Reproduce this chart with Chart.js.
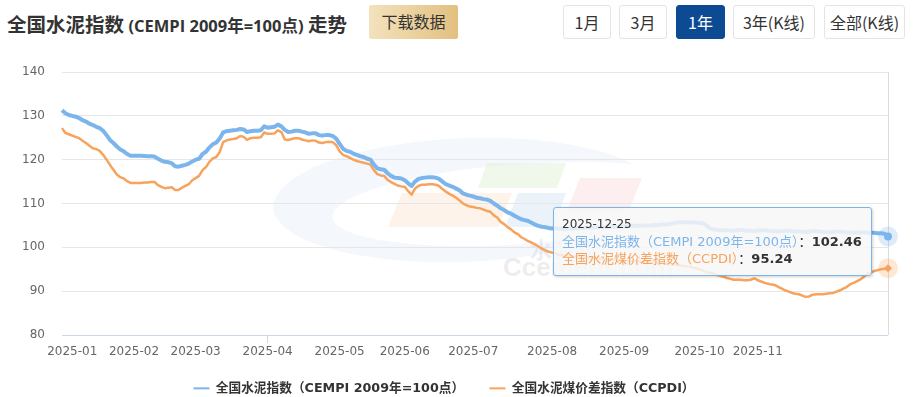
<!DOCTYPE html>
<html>
<head>
<meta charset="utf-8">
<title>全国水泥指数走势</title>
<script src="https://cdn.jsdelivr.net/npm/chart.js@4.4.1/dist/chart.umd.min.js"></script>
<style>
  html, body { margin: 0; padding: 0; background: #fff; }
  body { width: 913px; height: 397px; position: relative; overflow: hidden; font-family: "Noto Sans CJK SC", sans-serif; }
  #chart { position: absolute; left: 0; top: 0; }
  .title { position: absolute; left: 7px; top: 8px; font-size: 19.5px; font-weight: bold; color: #333; line-height: 32px; white-space: nowrap; }
  .title .sub { font: bold 16.5px "Open Sans", "Noto Sans CJK SC", sans-serif; }
  .btn { position: absolute; top: 5px; height: 34px; line-height: 33px; text-align: center; font-size: 16px; color: #333; box-sizing: border-box; border-radius: 3px; white-space: nowrap; }
  .download { left: 369px; width: 89px; background: linear-gradient(90deg, #f3e2bd, #e2c07f); border-radius: 2px; }
  .range { border: 1px solid #e4e4e4; background: #fff; }
  .range.on { background: #0d4a94; border-color: #0d4a94; color: #fff; }
  .tip { position: absolute; background: rgba(247,247,247,0.85); border: 1px solid #7cb5ec; border-radius: 3px;
         box-shadow: 1px 1px 3px rgba(0,0,0,0.18); padding: 8px 9px 8px 8px; font: 13px "DejaVu Sans", "Noto Sans CJK SC", sans-serif;
         color: #333; white-space: nowrap; line-height: 17px; }
  .tip .tt { font-size: 12px; }
</style>
</head>
<body>
<div class="title">全国水泥指数 <span class="sub">(CEMPI 2009年=100点)</span> 走势</div>
<div class="btn download">下载数据</div>
<div class="btn range" style="left:563px;width:48px">1月</div>
<div class="btn range" style="left:619px;width:48px">3月</div>
<div class="btn range on" style="left:676px;width:49px">1年</div>
<div class="btn range" style="left:733px;width:82px">3年(K线)</div>
<div class="btn range" style="left:824px;width:81px">全部(K线)</div>
<canvas id="chart" width="913" height="397"></canvas>
<div class="tip" id="tip"></div>
<script>
// 交易日（按月）
const monthKeys = ['2024-12', '2025-01', '2025-02', '2025-03', '2025-04', '2025-05', '2025-06',
                   '2025-07', '2025-08', '2025-09', '2025-10', '2025-11', '2025-12'];
const monthDays = [
  [27, 30, 31],
  [2, 3, 6, 7, 8, 9, 10, 13, 14, 15, 16, 17, 20, 21, 22, 23, 24, 27],
  [5, 6, 7, 10, 11, 12, 13, 14, 17, 18, 19, 20, 21, 24, 25, 26, 27, 28],
  [3, 4, 5, 6, 7, 10, 11, 12, 13, 14, 17, 18, 19, 20, 21, 24, 25, 26, 27, 28, 31],
  [1, 2, 3, 7, 8, 9, 10, 11, 14, 15, 16, 17, 18, 21, 22, 23, 24, 25, 28, 29, 30],
  [6, 7, 8, 9, 12, 13, 14, 15, 16, 19, 20, 21, 22, 23, 26, 27, 28, 29, 30],
  [3, 4, 5, 6, 9, 10, 11, 12, 13, 16, 17, 18, 19, 20, 23, 24, 25, 26, 27, 30],
  [1, 2, 3, 4, 7, 8, 9, 10, 11, 14, 15, 16, 17, 18, 21, 22, 23, 24, 25, 28, 29, 30, 31],
  [1, 4, 5, 6, 7, 8, 11, 12, 13, 14, 15, 18, 19, 20, 21, 22, 25, 26, 27, 28, 29],
  [1, 2, 3, 4, 5, 8, 9, 10, 11, 12, 15, 16, 17, 18, 19, 22, 23, 24, 25, 26, 29, 30],
  [9, 10, 13, 14, 15, 16, 17, 20, 21, 22, 23, 24, 27, 28, 29, 30, 31],
  [3, 4, 5, 6, 7, 10, 11, 12, 13, 14, 17, 18, 19, 20, 21, 24, 25, 26, 27, 28],
  [1, 2, 3, 4, 5, 8, 9, 10, 11, 12, 15, 16, 17, 18, 19, 22, 23, 24, 25]
];

// 全国水泥指数（CEMPI 2009年=100点）
const cempi = [
  131.3, 130.6, 130.2,
  130.0, 129.8, 129.5, 129.0, 128.7, 128.2, 127.9, 127.5, 127.2, 126.6, 125.6, 124.5, 123.8, 123.0, 122.3, 121.9, 121.3, 120.9,
  120.9, 120.9, 120.9, 120.85, 120.8, 120.8, 120.7, 120.2, 119.8, 119.5, 119.4, 119.2, 118.5, 118.4, 118.6, 118.8, 119.1, 119.6,
  120.0, 120.2, 121.3, 121.8, 122.8, 123.5, 123.9, 124.8, 126.2, 126.5, 126.6, 126.7, 126.8, 127.0, 126.9, 126.3, 126.5, 126.6, 126.6, 126.7, 127.6,
  127.3, 127.4, 127.5, 128.0, 127.6, 126.8, 126.3, 126.4, 126.6, 126.6, 126.4, 126.2, 125.9, 126.0, 126.0, 125.6, 125.5, 125.6, 125.6, 125.4, 124.8,
  123.6, 122.5, 122.0, 121.8, 121.4, 121.1, 120.8, 120.6, 120.2, 120.0, 118.9, 118.0, 117.8, 117.7, 116.9, 116.3, 115.9, 115.8, 115.7,
  115.3, 114.6, 114.0, 115.0, 115.6, 115.8, 115.9, 116.0, 116.0, 115.9, 115.6, 115.0, 114.4, 114.1, 113.8, 113.4, 113.0, 112.3, 112.0, 111.8,
  111.6, 111.3, 111.2, 111.0, 110.9, 110.6, 110.0, 109.5, 108.9, 108.5, 108.0, 107.7, 107.2, 106.8, 106.4, 106.2, 106.0, 105.6, 105.2, 104.9, 104.7, 104.6, 104.4,
  104.3, 104.3, 104.3, 104.2, 104.2, 104.3, 104.3, 104.4, 104.4, 104.4, 104.5, 104.5, 104.5, 104.5, 104.6, 104.6, 104.6, 104.7, 104.7, 104.7, 104.7,
  104.8, 104.8, 104.8, 104.9, 104.9, 104.9, 105.0, 105.0, 105.0, 105.1, 105.1, 105.2, 105.2, 105.3, 105.4, 105.6, 105.7, 105.7, 105.7, 105.7, 105.7, 105.6,
  105.6, 105.5, 105.0, 104.4, 104.1, 104.0, 103.9, 103.9, 103.9, 103.8, 103.8, 103.9, 104.0, 103.9, 103.8, 103.8, 103.7,
  103.8, 103.9, 103.9, 103.8, 103.7, 103.7, 103.6, 103.7, 103.8, 103.8, 103.7, 103.6, 103.6, 103.6, 103.5, 103.6, 103.7, 103.7, 103.6, 103.5,
  103.5, 103.4, 103.5, 103.6, 103.6, 103.5, 103.4, 103.4, 103.3, 103.4, 103.4, 103.4, 103.3, 103.3, 103.3, 103.2, 103.2, 103.1, 102.46
];

// 全国水泥煤价差指数（CCPDI）
const ccpdi = [
  127.2, 126.1, 125.8,
  125.5, 125.2, 124.9, 124.3, 123.8, 123.2, 122.6, 122.4, 122.0, 121.1, 120.0, 118.8, 117.7, 116.6, 116.0, 115.7, 115.1, 114.7,
  114.7, 114.7, 114.7, 114.8, 114.8, 114.9, 114.9, 114.2, 113.8, 113.5, 113.6, 113.7, 113.1, 113.1, 113.6, 114.0, 114.4, 115.3,
  115.8, 116.3, 117.6, 118.3, 119.5, 120.3, 120.6, 121.7, 124.0, 124.4, 124.6, 124.7, 124.9, 125.4, 125.2, 124.5, 124.9, 125.0, 125.0, 125.1, 126.2,
  125.9, 125.9, 126.0, 126.7, 126.3, 124.6, 124.5, 124.7, 124.9, 124.9, 124.6, 124.4, 124.2, 124.4, 124.3, 123.9, 123.8, 124.0, 124.1, 124.0, 123.3,
  121.9, 121.1, 120.8, 120.4, 120.0, 119.7, 119.5, 119.3, 119.1, 118.9, 117.6, 116.7, 116.4, 116.3, 115.4, 114.9, 114.5, 114.1, 113.9,
  113.8, 112.8, 112.0, 113.4, 114.0, 114.3, 114.3, 114.4, 114.4, 114.3, 114.0, 113.3, 112.7, 112.2, 111.8, 111.3, 110.7, 110.0, 109.6, 109.3,
  109.2, 109.0, 108.9, 108.6, 108.3, 108.1, 107.3, 106.8, 105.8, 105.3, 104.6, 104.1, 103.4, 103.0, 102.3, 101.9, 101.4, 101.1, 100.7, 100.2, 99.7, 99.3, 99.0,
  98.8, 98.6, 98.3, 98.2, 98.1, 98.0, 97.9, 97.9, 97.8, 97.7, 97.7, 97.6, 97.5, 97.5, 97.4, 97.3, 97.3, 97.2, 97.2, 97.1, 97.0,
  97.0, 96.9, 96.9, 96.8, 96.8, 96.7, 96.7, 96.6, 96.6, 96.5, 96.5, 96.4, 96.3, 96.2, 96.1, 96.0, 95.9, 95.8, 95.7, 95.6, 95.4, 95.2,
  95.0, 94.7, 94.4, 94.2, 94.0, 93.7, 93.5, 93.3, 93.0, 92.8, 92.6, 92.6, 92.6, 92.5, 92.5, 92.6, 92.9,
  92.5, 92.2, 91.9, 91.7, 91.5, 91.4, 91.0, 90.6, 90.2, 89.9, 89.6, 89.4, 89.3, 89.0, 88.7, 88.8, 89.2, 89.3, 89.3, 89.3,
  89.4, 89.5, 89.6, 89.9, 90.2, 90.6, 91.0, 91.6, 91.9, 92.3, 92.7, 93.3, 94.0, 94.3, 94.6, 94.8, 95.0, 95.1, 95.24
];

const seriesNames = ['全国水泥指数（CEMPI 2009年=100点）', '全国水泥煤价差指数（CCPDI）'];
const seriesColors = ['#7cb5ec', '#f7a35c'];
const haloColors = ['rgba(124,181,236,0.25)', 'rgba(247,163,92,0.25)'];
const hiddenMonths = ['2025-12'];

const dates = [];
monthKeys.forEach((m, k) => monthDays[k].forEach(d => dates.push(m + '-' + String(d).padStart(2, '0'))));
const last = dates.length - 1;

function monthLabel(i) {
  if (!i) return null;
  const m = dates[i].slice(0, 7);
  if (m === dates[i - 1].slice(0, 7)) return null;
  return hiddenMonths.includes(m) ? '' : m;
}

const font = '"DejaVu Sans", "Noto Sans CJK SC", sans-serif';
Chart.defaults.font.family = font;

// 背景水印
const watermark = {
  id: 'watermark',
  beforeDraw(chart) {
    const c = chart.ctx;
    c.save();
    c.beginPath();
    c.ellipse(465, 200, 192, 62, -0.04, 0, Math.PI * 2);
    c.clip();
    c.beginPath();
    c.ellipse(465, 200, 192, 62, -0.04, 0, Math.PI * 2);
    c.ellipse(522, 204, 190, 40, -0.07, 0, Math.PI * 2);
    c.fillStyle = 'rgba(228,238,250,0.42)';
    c.fill('evenodd');
    c.restore();
    c.save();
    const poly = (pts, col) => {
      c.beginPath();
      pts.forEach((p, k) => k ? c.lineTo(p[0], p[1]) : c.moveTo(p[0], p[1]));
      c.closePath();
      c.fillStyle = col;
      c.fill();
    };
    poly([[402, 193], [512, 193], [498, 227], [388, 227]], 'rgba(252,228,210,0.45)');
    poly([[487, 163], [566, 163], [557, 188], [478, 188]], 'rgba(226,240,216,0.5)');
    poly([[518, 193], [566, 193], [553, 227], [505, 227]], 'rgba(218,229,245,0.5)');
    poly([[580, 178], [642, 178], [628, 213], [566, 213]], 'rgba(250,220,220,0.45)');
    c.fillStyle = 'rgba(200,212,228,0.4)';
    c.font = 'bold 22px "Noto Sans CJK SC"';
    c.textBaseline = 'middle';
    c.fillText('水泥网', 530, 250);
    c.fillStyle = 'rgba(210,210,210,0.4)';
    c.font = 'bold 26px "Liberation Sans"';
    c.fillText('Ccement.com', 503, 269);
    c.restore();
  }
};

const plotBorder = {
  id: 'plotBorder',
  beforeDatasetsDraw(chart) {
    const {ctx, chartArea: a} = chart;
    ctx.save();
    ctx.strokeStyle = '#dcdcdc';
    ctx.lineWidth = 1;
    ctx.beginPath();
    ctx.moveTo(Math.round(a.right) + 0.5, a.top);
    ctx.lineTo(Math.round(a.right) + 0.5, a.bottom);
    ctx.stroke();
    ctx.restore();
  }
};

// 悬停点光晕与标记
const hoverMarks = {
  id: 'hoverMarks',
  afterDatasetsDraw(chart) {
    const ctx = chart.ctx;
    ctx.save();
    chart.data.datasets.forEach((ds, i) => {
      const p = chart.getDatasetMeta(i).data[last];
      ctx.beginPath();
      ctx.arc(p.x, p.y, 10, 0, Math.PI * 2);
      ctx.fillStyle = haloColors[i];
      ctx.fill();
      ctx.beginPath();
      if (i === 0) {
        ctx.arc(p.x, p.y, 4, 0, Math.PI * 2);
      } else {
        ctx.moveTo(p.x, p.y - 4); ctx.lineTo(p.x + 4, p.y); ctx.lineTo(p.x, p.y + 4); ctx.lineTo(p.x - 4, p.y);
        ctx.closePath();
      }
      ctx.fillStyle = seriesColors[i];
      ctx.fill();
    });
    ctx.restore();
  }
};

const chart = new Chart(document.getElementById('chart'), {
  type: 'line',
  data: {
    labels: dates,
    datasets: [
      { label: seriesNames[0], data: cempi, borderColor: seriesColors[0], backgroundColor: seriesColors[0], borderWidth: 4, pointRadius: 0, tension: 0, borderJoinStyle: 'round' },
      { label: seriesNames[1], data: ccpdi, borderColor: seriesColors[1], backgroundColor: seriesColors[1], borderWidth: 2.5, pointRadius: 0, tension: 0, borderJoinStyle: 'round' }
    ]
  },
  options: {
    responsive: false,
    animation: false,
    events: [],
    layout: { padding: { top: 72, right: 25, left: 0, bottom: 0 } },
    scales: {
      x: {
        offset: false,
        afterFit: s => { s.height = 28; },
        border: { color: '#ccd6eb', width: 1 },
        grid: {
          drawOnChartArea: false, drawTicks: true, tickLength: 8,
          tickColor: c => monthLabel(c.index) !== null ? '#ccd6eb' : 'rgba(0,0,0,0)',
          lineWidth: c => monthLabel(c.index) !== null ? 1 : 0
        },
        ticks: { autoSkip: false, maxRotation: 0, minRotation: 0, padding: 2, color: '#666', font: { size: 12 },
                 callback: (v, i) => monthLabel(i) }
      },
      y: {
        min: 80, max: 140,
        afterFit: s => { s.width = 62; },
        border: { display: false },
        grid: { color: '#e6e6e6', drawTicks: false },
        ticks: { stepSize: 10, padding: 17, color: '#666', font: { size: 12 } }
      }
    },
    plugins: {
      tooltip: { enabled: false },
      legend: {
        position: 'bottom',
        maxHeight: 34,
        labels: {
          usePointStyle: true, pointStyle: 'line', pointStyleWidth: 16,
          padding: 19, color: '#333', font: { size: 12.7, weight: 'bold' },
          // 第一项后留出与原图一致的间距
          generateLabels: ch => ch.data.datasets.map((ds, i) => ({
            text: i === 0 ? ds.label + '\u2002' : ds.label, strokeStyle: ds.borderColor, fillStyle: ds.borderColor,
            lineWidth: 2, pointStyle: 'line', datasetIndex: i, hidden: false, fontColor: '#333'
          }))
        }
      }
    }
  },
  plugins: [watermark, plotBorder, hoverMarks]
});

// 提示框（2025-12-25）
const tip = document.getElementById('tip');
tip.innerHTML = '<div class="tt">' + dates[last] + '</div>' +
  '<div><span style="color:' + seriesColors[0] + '">' + seriesNames[0] + '</span>：<b>' + cempi[last] + '</b></div>' +
  '<div><span style="color:' + seriesColors[1] + '">' + seriesNames[1] + '</span>：<b>' + ccpdi[last] + '</b></div>';
const p0 = chart.getDatasetMeta(0).data[last];
tip.style.left = (p0.x - 16 - tip.offsetWidth) + 'px';
tip.style.top = (p0.y - 30) + 'px';
</script>
</body>
</html>
